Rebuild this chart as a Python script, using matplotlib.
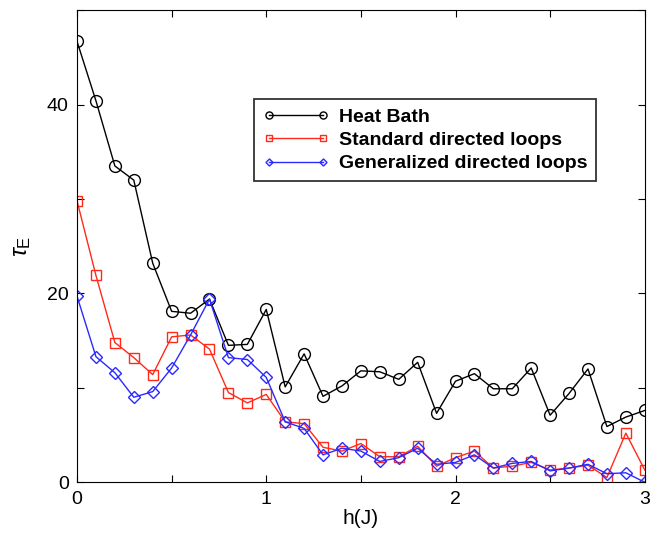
import numpy as np
import matplotlib
matplotlib.use("Agg")
import matplotlib.pyplot as plt
from matplotlib.ticker import MultipleLocator

plt.rcParams['font.family'] = ['Liberation Sans', 'DejaVu Sans']
plt.rcParams['mathtext.fontset'] = 'custom'
plt.rcParams['mathtext.rm'] = 'Liberation Sans'
plt.rcParams['mathtext.it'] = 'Liberation Sans:italic'

# field h in units of J
h = [0.0, 0.1, 0.2, 0.3, 0.4, 0.5, 0.6, 0.7, 0.8, 0.9, 1.0,
     1.1, 1.2, 1.3, 1.4, 1.5, 1.6, 1.7, 1.8, 1.9, 2.0,
     2.1, 2.2, 2.3, 2.4, 2.5, 2.6, 2.7, 2.8, 2.9, 3.0]

heat_bath = [46.7, 40.4, 33.5, 32.0, 23.2, 18.1, 17.9, 19.4, 14.5, 14.6, 18.3,
             10.1, 13.6, 9.1, 10.2, 11.8, 11.7, 10.9, 12.7, 7.3, 10.7,
             11.5, 9.9, 9.9, 12.1, 7.1, 9.4, 12.0, 5.9, 6.9, 7.6]

standard_loops = [29.8, 21.9, 14.8, 13.2, 11.4, 15.4, 15.6, 14.1, 9.5, 8.4, 9.3,
                  6.4, 6.2, 3.7, 3.3, 4.1, 2.7, 2.7, 3.8, 1.7, 2.6,
                  3.3, 1.5, 1.7, 2.1, 1.3, 1.5, 1.8, 0.5, 5.2, 1.3]

general_loops = [19.7, 13.3, 11.6, 9.0, 9.6, 12.1, 15.6, 19.4, 13.2, 13.0, 11.1,
                 6.4, 5.7, 2.9, 3.6, 3.3, 2.2, 2.6, 3.6, 1.9, 2.1,
                 2.9, 1.5, 2.0, 2.2, 1.2, 1.5, 1.9, 0.9, 1.0, 0.0]

fig = plt.figure(figsize=(6.64, 5.37), dpi=100)
ax = fig.add_axes([0.116, 0.102, 0.855, 0.879])

ax.plot(h, heat_bath, color="black", lw=1.0, marker="o", ms=8.5,
        mfc="none", mec="black", mew=1.0, label="Heat Bath")
ax.plot(h, standard_loops, color="#ff2a1a", lw=1.0, marker="s", ms=7,
        mfc="none", mec="#ff2a1a", mew=1.0, label="Standard directed loops")
ax.plot(h, general_loops, color="#2a2aff", lw=1.0, marker="D", ms=6,
        mfc="none", mec="#2a2aff", mew=1.0, label="Generalized directed loops")

ax.set_xlim(0, 3)
ax.set_ylim(0, 50)
ax.xaxis.set_major_locator(MultipleLocator(1))
ax.xaxis.set_minor_locator(MultipleLocator(0.5))
ax.yaxis.set_major_locator(MultipleLocator(20))
ax.yaxis.set_minor_locator(MultipleLocator(10))
ax.tick_params(which="both", direction="in", top=True, right=True,
               length=5, width=0.8, labelsize=14, pad=6)
ax.set_xlabel("h(J)", fontsize=15, labelpad=1)
ax.set_ylabel(r"$\tau_{\mathrm{E}}$", fontsize=17, labelpad=10)

leg = ax.legend(loc="upper left", bbox_to_anchor=(0.295, 0.832),
                prop={"weight": "bold", "size": 14}, numpoints=2,
                markerscale=0.6, handlelength=3.4, frameon=True, fancybox=False,
                borderpad=0.45, labelspacing=0.3, handletextpad=0.5)
leg.get_frame().set_edgecolor("black")
leg.get_frame().set_linewidth(1.3)

fig.savefig("out.png", dpi=100)
